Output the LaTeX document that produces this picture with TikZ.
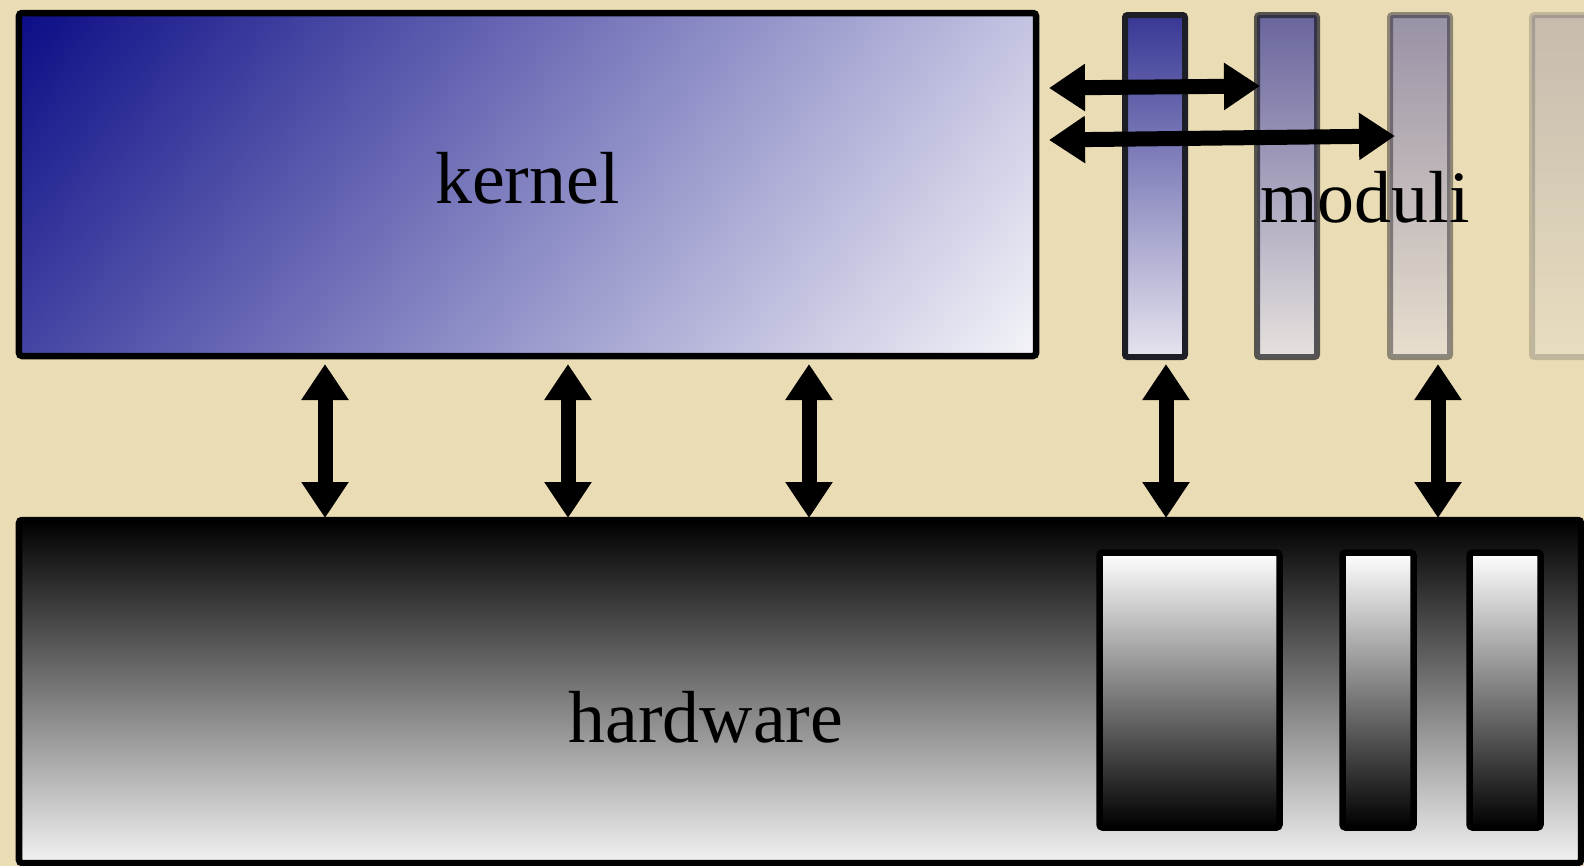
\documentclass[tikz,border=0pt]{standalone}
\usepackage{fontspec}
\setmainfont{Liberation Serif}
\usepackage{xcolor}
\usepackage{tikz}
\usetikzlibrary{arrows.meta,positioning,shadings}
\definecolor{parchment}{HTML}{EADCB4}
\definecolor{kernelNavy}{HTML}{0C0C86}
\definecolor{kernelLilac}{HTML}{C4C4E2}
\definecolor{kernelBlue}{HTML}{4444A4}
\definecolor{kernelMist}{HTML}{F4F4F8}
\definecolor{modTop}{HTML}{383896}
\definecolor{modBottom}{HTML}{E6E4EE}
\definecolor{modEdge}{HTML}{1E1E26}
\definecolor{hwGray}{HTML}{F2F2F2}

\begin{document}
\begin{tikzpicture}[
  every node/.style={inner sep=0pt,outer sep=0pt},
  bigtext/.style={font=\fontsize{21}{25}\selectfont,text=black},
  kernelbox/.style={draw=black,line width=0.065cm,rounded corners=0.03cm,minimum width=10.17cm,minimum height=3.43cm,upper left=kernelNavy,upper right=kernelLilac,lower left=kernelBlue,lower right=kernelMist},
  modbox/.style={draw=modEdge,line width=0.06cm,rounded corners=0.025cm,minimum width=0.6cm,minimum height=3.42cm,top color=modTop,bottom color=modBottom},
  hwbox/.style={draw=black,line width=0.065cm,rounded corners=0.03cm,minimum width=15.62cm,minimum height=3.43cm,top color=black,bottom color=hwGray},
  slot/.style={draw=black,line width=0.065cm,rounded corners=0.03cm,minimum height=2.75cm,top color=white,bottom color=black},
  dblarrow/.style={{Triangle[length=0.36cm,width=0.45cm]}-{Triangle[length=0.36cm,width=0.45cm]},line width=0.15cm,black}
]
\useasboundingbox (0,0) rectangle (15.84,-8.66);
\fill[parchment] (0,0) rectangle (15.84,-8.66);
\clip (0,0) rectangle (15.84,-8.66);

% kernel e hardware
\node[kernelbox,bigtext,text depth=0.13cm] (kernel) at (5.275,-1.845) {kernel};
\node[hwbox] (hw) at (8.00,-6.915) {};

% moduli, sempre piu' sbiaditi
\node[modbox,right=0.89cm of kernel,yshift=-0.015cm] (mod1) {};
\node[modbox,right=0.72cm of mod1,opacity=0.72] (mod2) {};
\node[modbox,right=0.73cm of mod2,opacity=0.45] (mod3) {};
\node[modbox,right=0.82cm of mod3,opacity=0.2] (mod4) {};

% schede dentro l'hardware
\node[slot,minimum width=1.80cm] (card1) at (11.895,-6.90) {};
\node[slot,minimum width=0.71cm,right=0.63cm of card1] (card2) {};
\node[slot,minimum width=0.71cm,right=0.56cm of card2] (card3) {};

% testi
\node[bigtext] (modtext) at (13.65,-1.97) {moduli};
\node[bigtext] (hwtext) at (7.06,-7.17) {hardware};

% frecce
\foreach \x [count=\i] in {3.25,5.68,8.09,11.66,14.38}{
  \coordinate (v\i) at (\x,0);
  \draw[dblarrow] ([yshift=-0.08cm]kernel.south -| v\i) -- ([yshift=0.02cm]hw.north -| v\i);
}
\draw[dblarrow] ([shift={(0.13,-0.75)}]kernel.north east) -- ([shift={(0.03,-0.71)}]mod2.north west);
\draw[dblarrow] ([shift={(0.13,-1.27)}]kernel.north east) -- ([shift={(0.05,-1.21)}]mod3.north west);
\end{tikzpicture}
\end{document}
